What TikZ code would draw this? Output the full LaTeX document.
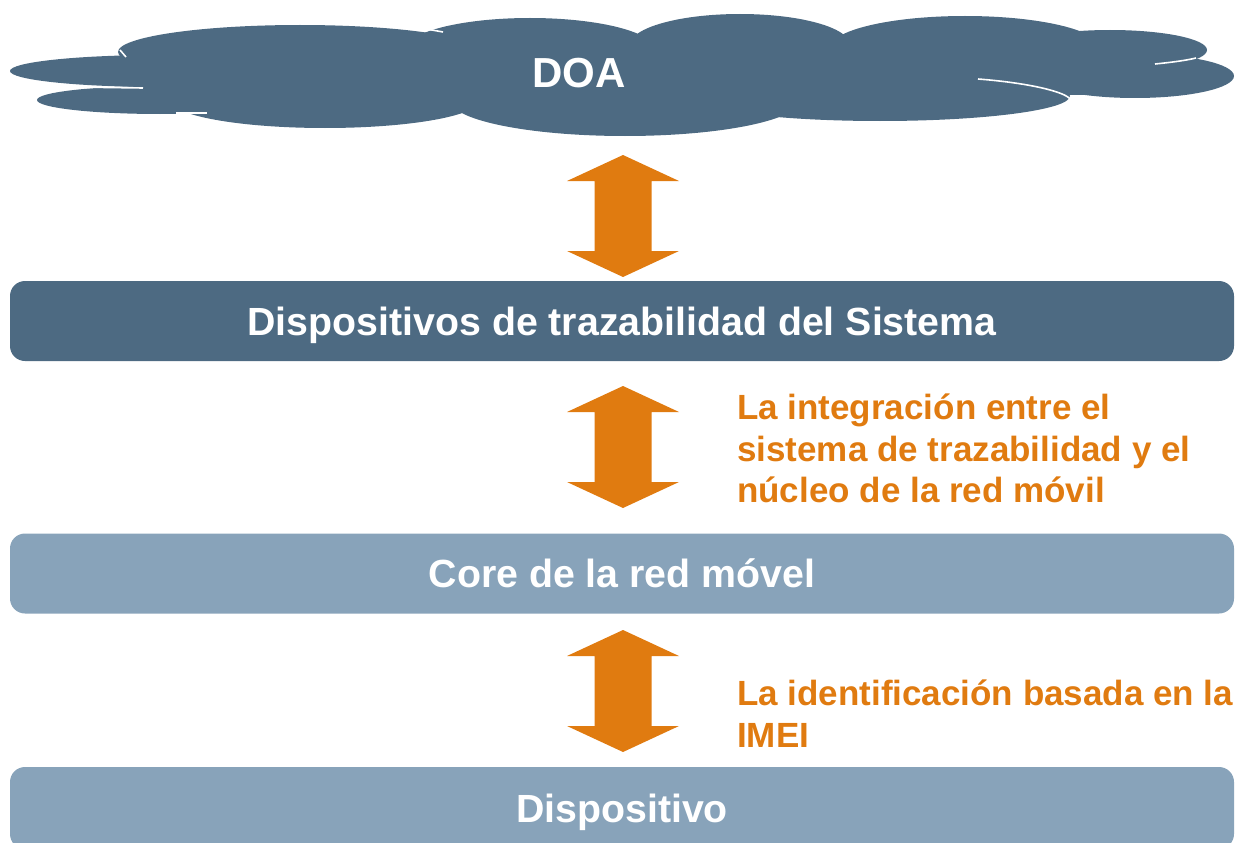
\documentclass[tikz,border=0pt]{standalone}
\usepackage{fontspec}
\setmainfont{Liberation Sans}
\definecolor{darkC}{HTML}{4D6A82}
\definecolor{lightC}{HTML}{88A3BA}
\definecolor{orangeC}{HTML}{E07B10}
\begin{document}
\begin{tikzpicture}[x=1pt,y=-1pt,
  bar/.style={rounded corners=15pt, minimum width=1224pt, minimum height=80pt, inner sep=0pt,
    text=white, font=\fontsize{39.3}{47}\selectfont\bfseries, text height=28pt, text depth=0pt},
  note/.style={anchor=base west, inner sep=0pt, text=orangeC, font=\fontsize{35}{41}\selectfont\bfseries},
  cloudpart/.style={fill=darkC},
  cloudline/.style={draw=white, line width=1.6pt},
  dblarrow/.pic={\fill[orangeC] (0,-61) -- (56,-35) -- (28.5,-35) -- (28.5,35) -- (56,35) -- (0,61)
      -- (-56,35) -- (-28.5,35) -- (-28.5,-35) -- (-56,-35) -- cycle;}]
\useasboundingbox (0,0) rectangle (1235,843);
\clip (0,0) rectangle (1235,843);
% cloud
\fill[cloudpart] (160,71) ellipse [x radius=150pt, y radius=16pt];
\fill[cloudpart] (160,100) ellipse [x radius=123pt, y radius=14pt];
\fill[cloudpart] (300,52) ellipse [x radius=182pt, y radius=27pt];
\fill[cloudpart] (325,100) ellipse [x radius=155pt, y radius=28pt];
\fill[cloudpart] (530,50) ellipse [x radius=125pt, y radius=32pt];
\fill[cloudpart] (625,100) ellipse [x radius=175pt, y radius=36pt];
\fill[cloudpart] (740,45) ellipse [x radius=110pt, y radius=31pt];
\fill[cloudpart] (965,48) ellipse [x radius=135pt, y radius=32pt];
\fill[cloudpart] (1110,50) ellipse [x radius=97pt, y radius=20pt];
\fill[cloudpart] (1135,76) ellipse [x radius=99pt, y radius=22pt];
\fill[cloudpart] (880,96) ellipse [x radius=190pt, y radius=25pt];
\fill[cloudpart] (140,55) rectangle (1120,95);
\draw[cloudline] (71,87) -- (143,88);
\draw[cloudline] (176,113) -- (207,113);
\draw[cloudline] (120,50) -- (126,57);
\draw[cloudline] (415,27) -- (443,32);
\draw[cloudline] (458,120) -- (472,125);
\draw[cloudline] (636,25) -- (642,22);
\draw[cloudline] (834,24) -- (852,20);
\draw[cloudline] (978,79) .. controls (1030,83) and (1065,92) .. (1070,99);
\draw[cloudline] (1155,64) .. controls (1175,62) and (1188,60) .. (1196,58);
\node[inner sep=0pt, anchor=base, text=white, font=\fontsize{42}{50}\selectfont\bfseries] (doa) at (579,88) {DOA};
% bars
\node[bar, fill=darkC] (sys) at (622,321) {Dispositivos de trazabilidad del Sistema};
\node[bar, fill=lightC] (core) at (622,573.5) {Core de la red móvel};
\node[bar, fill=lightC, minimum height=82pt] (dev) at (622,808) {Dispositivo};
% arrows
\coordinate (a1) at (623,216);
\coordinate (a2) at (623,447);
\coordinate (a3) at (623,691);
\pic at (a1) {dblarrow};
\pic at (a2) {dblarrow};
\pic at (a3) {dblarrow};
% notes
\node[note] (n1) at (737,419) {La integración entre el};
\node[note] (n2) at (737,461) {sistema de trazabilidad y el};
\node[note] (n3) at (737,502) {núcleo de la red móvil};
\node[note] (n4) at (737,705) {La identificación basada en la};
\node[note] (n5) at (737,747) {IMEI};
\end{tikzpicture}
\end{document}
